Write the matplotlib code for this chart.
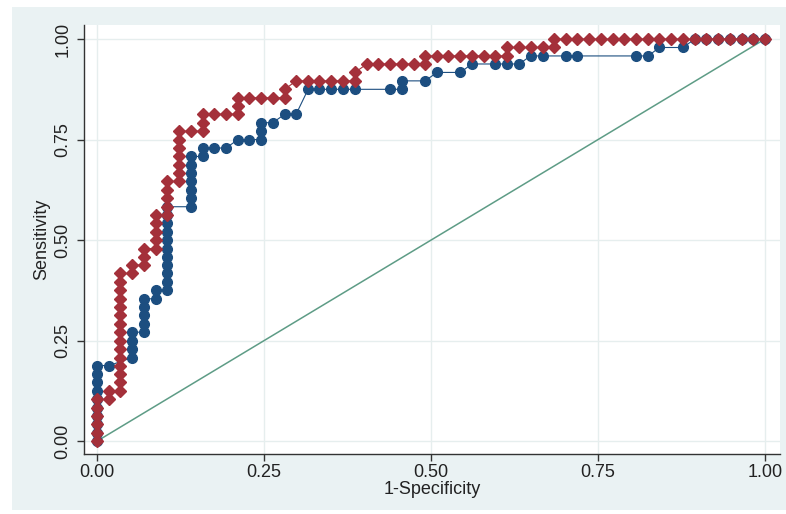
import matplotlib
matplotlib.use("Agg")
import matplotlib.pyplot as plt
from matplotlib.patches import Rectangle

plt.rcParams['font.family'] = ['Liberation Sans', 'DejaVu Sans']

# curve 1 (blue circles): 1-specificity, sensitivity
fpr_blue = [0.000, 0.000, 0.000, 0.000, 0.000, 0.000, 0.000, 0.000, 0.000, 0.000,
            0.018, 0.053, 0.053, 0.053, 0.053,
            0.070, 0.070, 0.070, 0.070, 0.070,
            0.088, 0.088,
            0.105, 0.105, 0.105, 0.105, 0.105, 0.105, 0.105, 0.105, 0.105, 0.105, 0.105,
            0.140, 0.140, 0.140, 0.140, 0.140, 0.140, 0.140,
            0.158, 0.158, 0.175, 0.193, 0.211, 0.228,
            0.246, 0.246, 0.246, 0.263, 0.281, 0.298,
            0.316, 0.333, 0.351, 0.368, 0.386, 0.439, 0.456, 0.456, 0.491,
            0.509, 0.544, 0.561, 0.596, 0.614, 0.632,
            0.649, 0.667, 0.702, 0.719, 0.807, 0.825,
            0.842, 0.877, 0.895, 0.912, 0.930, 0.947, 0.965, 0.982, 1.000]
tpr_blue = [0.000, 0.021, 0.042, 0.063, 0.083, 0.104, 0.125, 0.146, 0.167, 0.188,
            0.188, 0.208, 0.229, 0.250, 0.271,
            0.271, 0.292, 0.313, 0.333, 0.354,
            0.354, 0.375,
            0.375, 0.396, 0.417, 0.438, 0.458, 0.479, 0.500, 0.521, 0.542, 0.563, 0.583,
            0.583, 0.604, 0.625, 0.646, 0.667, 0.688, 0.708,
            0.708, 0.729, 0.729, 0.729, 0.750, 0.750,
            0.750, 0.771, 0.792, 0.792, 0.813, 0.813,
            0.875, 0.875, 0.875, 0.875, 0.875, 0.875, 0.875, 0.896, 0.896,
            0.917, 0.917, 0.938, 0.938, 0.938, 0.938,
            0.958, 0.958, 0.958, 0.958, 0.958, 0.958,
            0.979, 0.979, 1.000, 1.000, 1.000, 1.000, 1.000, 1.000, 1.000]

# curve 2 (red diamonds)
fpr_red = [0.000, 0.000, 0.000, 0.000, 0.000, 0.000,
           0.018, 0.018,
           0.035, 0.035, 0.035, 0.035, 0.035, 0.035, 0.035, 0.035,
           0.035, 0.035, 0.035, 0.035, 0.035, 0.035, 0.035,
           0.053, 0.053,
           0.070, 0.070, 0.070,
           0.088, 0.088, 0.088, 0.088, 0.088,
           0.105, 0.105, 0.105, 0.105, 0.105,
           0.123, 0.123, 0.123, 0.123, 0.123, 0.123, 0.123,
           0.140, 0.158, 0.158, 0.158, 0.175, 0.193,
           0.211, 0.211, 0.211, 0.228, 0.246, 0.263, 0.281, 0.281,
           0.298, 0.316, 0.333, 0.351, 0.368, 0.386, 0.386, 0.404,
           0.421, 0.439, 0.456, 0.474, 0.491, 0.491,
           0.509, 0.526, 0.544, 0.561, 0.579, 0.596, 0.614, 0.614,
           0.632, 0.649, 0.667, 0.684, 0.684,
           0.702, 0.719, 0.737, 0.754, 0.772, 0.789, 0.807, 0.825, 0.842,
           0.860, 0.877, 0.895, 0.912, 0.930, 0.947, 0.965, 0.982, 1.000]
tpr_red = [0.000, 0.021, 0.042, 0.063, 0.083, 0.104,
           0.104, 0.125,
           0.125, 0.146, 0.167, 0.188, 0.208, 0.229, 0.250, 0.271,
           0.292, 0.313, 0.333, 0.354, 0.375, 0.396, 0.417,
           0.417, 0.438,
           0.438, 0.458, 0.479,
           0.479, 0.500, 0.521, 0.542, 0.563,
           0.563, 0.583, 0.604, 0.625, 0.646,
           0.646, 0.667, 0.688, 0.708, 0.729, 0.750, 0.771,
           0.771, 0.771, 0.792, 0.813, 0.813, 0.813,
           0.813, 0.833, 0.854, 0.854, 0.854, 0.854, 0.854, 0.875,
           0.896, 0.896, 0.896, 0.896, 0.896, 0.896, 0.917, 0.938,
           0.938, 0.938, 0.938, 0.938, 0.938, 0.958,
           0.958, 0.958, 0.958, 0.958, 0.958, 0.958, 0.958, 0.979,
           0.979, 0.979, 0.979, 0.979, 1.000,
           1.000, 1.000, 1.000, 1.000, 1.000, 1.000, 1.000, 1.000, 1.000,
           1.000, 1.000, 1.000, 1.000, 1.000, 1.000, 1.000, 1.000, 1.000]

ref_line = [0, 1]
ticks = [0, 0.25, 0.5, 0.75, 1.0]
tick_labels = ["0.00", "0.25", "0.50", "0.75", "1.00"]

fig = plt.figure(figsize=(7.86, 5.14), dpi=100)
fig.patch.set_facecolor("white")
bg = Rectangle((12 / 786, 4 / 514), 1, 1 - 11 / 514, transform=fig.transFigure,
               facecolor="#eaf2f3", edgecolor="none", zorder=-10)
fig.add_artist(bg)

ax = fig.add_axes([0.1069, 0.1167, 0.8855, 0.8347])
ax.set_facecolor("white")

ax.plot(ref_line, ref_line, color="#5e9c86", lw=1.1, zorder=2)
ax.plot(fpr_blue, tpr_blue, color="#1c4e80", lw=0.8, marker="o", ms=7.0,
        mfc="#1c4e80", mec="#1c4e80", zorder=3)
ax.plot(fpr_red, tpr_red, color="#a4303a", lw=0.8, marker="D", ms=6.6,
        mfc="#a4303a", mec="#a4303a", zorder=4)

ax.set_xlim(-0.0195, 1.0225)
ax.set_ylim(-0.032, 1.035)
ax.set_xticks(ticks)
ax.set_xticklabels(tick_labels)
ax.set_yticks(ticks)
ax.set_yticklabels(tick_labels, rotation=90, va="center")
ax.grid(True, color="#e6eeee", lw=1.0)
ax.set_axisbelow(True)

for s in ["top", "right"]:
    ax.spines[s].set_visible(False)
for s in ["left", "bottom"]:
    ax.spines[s].set_color("#333333")
    ax.spines[s].set_linewidth(1.0)

ax.tick_params(direction="out", length=5, width=1, color="#333333",
               labelsize=13, labelcolor="#222222", pad=4)
ax.tick_params(axis="x", pad=2)
ax.set_xlabel("1-Specificity", fontsize=13, color="#222222", labelpad=0)
ax.set_ylabel("Sensitivity", fontsize=13, color="#222222", labelpad=3)

fig.savefig("out.png", dpi=100)
